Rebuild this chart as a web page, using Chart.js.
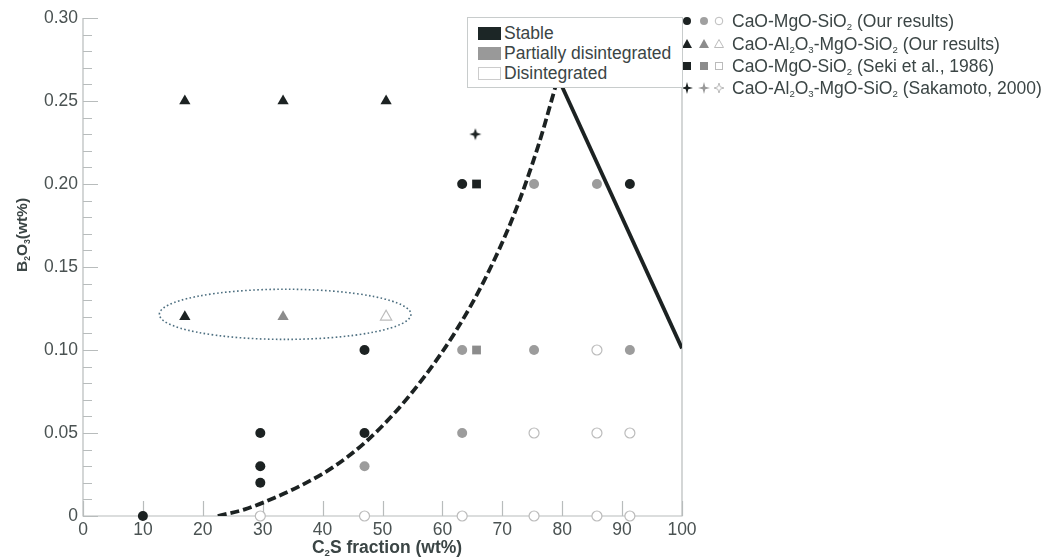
<!DOCTYPE html>
<html>
<head>
<meta charset="utf-8">
<script src="https://cdn.jsdelivr.net/npm/chart.js@4"></script>
<style>
html, body { margin: 0; padding: 0; background: #fff; }
#wrap { position: relative; width: 1055px; height: 560px; font-family: "Liberation Sans", Arial, sans-serif; color: #3b4545; }
#chart { position: absolute; left: 0; top: 0; }
sub { font-size: 0.55em; vertical-align: -0.3em; line-height: 0; }
.box { position: absolute; left: 467px; top: 17px; width: 214px; height: 69px; border: 1px solid #c8cccc; background: #fff; }
.box .row { position: absolute; left: 0; height: 20px; line-height: 20px; font-size: 17.5px; white-space: nowrap; }
.box .sw { position: absolute; left: 10px; top: 4px; width: 23px; height: 13px; box-sizing: border-box; }
.box .tx { position: absolute; left: 36px; top: 0; }
.leg { position: absolute; left: 683px; height: 20px; line-height: 20px; font-size: 17.5px; white-space: nowrap; }
.leg svg { position: absolute; left: 0; top: 0; }
.leg .tx { position: absolute; left: 49px; top: 0; }
.ytitle { position: absolute; left: -38px; top: 225px; width: 120px; height: 20px; line-height: 20px; text-align: center; font-weight: bold; font-size: 15.5px; transform: rotate(-90deg); white-space: nowrap; }
.xtitle { position: absolute; left: 287px; top: 537px; width: 200px; height: 20px; line-height: 20px; text-align: center; font-weight: bold; font-size: 17.5px; white-space: nowrap; }
</style>
</head>
<body>
<div id="wrap">
  <canvas id="chart" width="1055" height="560"></canvas>

  <div class="box">
    <div class="row" style="top:5px"><div class="sw" style="background:#1c2626"></div><span class="tx">Stable</span></div>
    <div class="row" style="top:25px"><div class="sw" style="background:#999"></div><span class="tx">Partially disintegrated</span></div>
    <div class="row" style="top:45px"><div class="sw" style="background:#fff;border:1px solid #ccc"></div><span class="tx">Disintegrated</span></div>
  </div>

  <div class="leg" style="top:11px">
    <svg width="45" height="20"><circle cx="4" cy="10" r="4" fill="#1c2222"/><circle cx="21" cy="10" r="4" fill="#a0a0a0"/><circle cx="36" cy="10" r="3.8" fill="#fff" stroke="#bbb"/></svg>
    <span class="tx">CaO-MgO-SiO<sub>2</sub> (Our results)</span>
  </div>
  <div class="leg" style="top:34px">
    <svg width="45" height="20"><path d="M4 5 L9 14 L-1 14 Z" fill="#1c2222"/><path d="M21 5 L26 14 L16 14 Z" fill="#8c8c8c"/><path d="M36 5.5 L40.5 13.5 L31.5 13.5 Z" fill="#fff" stroke="#bbb"/></svg>
    <span class="tx">CaO-Al<sub>2</sub>O<sub>3</sub>-MgO-SiO<sub>2</sub> (Our results)</span>
  </div>
  <div class="leg" style="top:56px">
    <svg width="45" height="20"><rect x="0" y="6" width="8" height="8" fill="#1c2222"/><rect x="17" y="6" width="8" height="8" fill="#8c8c8c"/><rect x="32.5" y="6.5" width="7" height="7" fill="#fff" stroke="#bbb"/></svg>
    <span class="tx">CaO-MgO-SiO<sub>2</sub> (Seki et al., 1986)</span>
  </div>
  <div class="leg" style="top:78px">
    <svg width="45" height="20"><path d="M4 4 L5.3 8.7 L10 10 L5.3 11.3 L4 16 L2.7 11.3 L-2 10 L2.7 8.7 Z" fill="#1c2222"/><path d="M21 4 L22.3 8.7 L27 10 L22.3 11.3 L21 16 L19.7 11.3 L15 10 L19.7 8.7 Z" fill="#999"/><path d="M36 5 L37.2 8.8 L41 10 L37.2 11.2 L36 15 L34.8 11.2 L31 10 L34.8 8.8 Z" fill="#fff" stroke="#bbb"/></svg>
    <span class="tx">CaO-Al<sub>2</sub>O<sub>3</sub>-MgO-SiO<sub>2</sub> (Sakamoto, 2000)</span>
  </div>

  <div class="ytitle">B<sub>2</sub>O<sub>3</sub>(wt%)</div>
  <div class="xtitle">C<sub>2</sub>S fraction (wt%)</div>
</div>

<script>
// CaO-MgO-SiO2 (our results), circles
const cmsStable = [[10, 0], [29.6, 0.05], [29.6, 0.03], [29.6, 0.02], [47, 0.10], [47, 0.05], [63.3, 0.20], [91.3, 0.20]];
const cmsPartial = [[47, 0.03], [63.3, 0.10], [63.3, 0.05], [75.3, 0.20], [75.3, 0.10], [85.8, 0.20], [91.3, 0.10]];
const cmsDisint = [[29.6, 0], [47, 0], [63.3, 0], [75.3, 0.05], [75.3, 0], [85.8, 0.10], [85.8, 0.05], [85.8, 0], [91.3, 0.05], [91.3, 0]];

// CaO-Al2O3-MgO-SiO2 (our results), triangles
const camsStable = [[17, 0.25], [33.4, 0.25], [50.6, 0.25], [17, 0.12]];
const camsPartial = [[33.4, 0.12]];
const camsDisint = [[50.6, 0.12]];

// Seki et al. 1986 squares, Sakamoto 2000 star
const sekiStable = [[65.7, 0.20]];
const sekiPartial = [[65.7, 0.10]];
const sakamotoStable = [[65.5, 0.23]];

// boundary lines
const boundaryDashed = [[22.5, 0], [27, 0.004], [32, 0.011], [37, 0.0195], [42, 0.030], [47, 0.044], [52, 0.062],
  [57, 0.084], [62, 0.110], [67, 0.142], [72, 0.182], [76, 0.223], [79.3, 0.264]];
const boundarySolid = [[79.3, 0.264], [100, 0.101]];

// dotted ellipse: centre x, centre y, half width, half height (data units)
const ellipse = [33.75, 0.1215, 21, 0.0151];

const xTicks = [0, 100, 10];
const yTicks = [0, 0.30, 0.01];

const BLACK = '#1c2222';
const GREY = '#9c9c9c';
const OPEN = '#bcbcbc';
const AXIS = '#b8bcbc';

const pts = arr => arr.map(p => ({ x: p[0], y: p[1] }));

// four point star for Sakamoto
const starImg = document.createElement('canvas');
starImg.width = 14; starImg.height = 14;
(function () {
  const c = starImg.getContext('2d');
  c.fillStyle = BLACK;
  c.beginPath();
  c.moveTo(7, 1); c.lineTo(8.6, 5.4); c.lineTo(13, 7); c.lineTo(8.6, 8.6);
  c.lineTo(7, 13); c.lineTo(5.4, 8.6); c.lineTo(1, 7); c.lineTo(5.4, 5.4);
  c.closePath(); c.fill();
})();

function marks(data, style, fill, stroke, r) {
  return {
    type: 'scatter', data: pts(data), pointStyle: style, pointRadius: r,
    backgroundColor: fill, borderColor: stroke, borderWidth: stroke === fill ? 0 : 1.2,
    clip: false, order: 1
  };
}

const axisPlugin = {
  id: 'axisPlugin',
  beforeDatasetsDraw(chart) {
    const { ctx, chartArea: a, scales: { x, y } } = chart;
    ctx.save();
    // dotted ellipse
    const cx = x.getPixelForValue(ellipse[0]), cy = y.getPixelForValue(ellipse[1]);
    const rx = x.getPixelForValue(ellipse[0] + ellipse[2]) - cx;
    const ry = cy - y.getPixelForValue(ellipse[1] + ellipse[3]);
    ctx.strokeStyle = '#4d6f80';
    ctx.lineWidth = 1.6;
    ctx.setLineDash([1.6, 2.4]);
    ctx.beginPath();
    ctx.ellipse(cx, cy, rx, ry, 0, 0, Math.PI * 2);
    ctx.stroke();
    ctx.setLineDash([]);

    // axes and inside ticks
    ctx.strokeStyle = AXIS;
    ctx.lineWidth = 1.2;
    ctx.beginPath();
    ctx.moveTo(a.left, a.top); ctx.lineTo(a.left, a.bottom); ctx.lineTo(a.right, a.bottom); ctx.lineTo(a.right, a.top);
    y.ticks.forEach(t => {
      const py = Math.round(y.getPixelForValue(t.value)) + 0.5;
      const major = Math.round(t.value * 100) % 5 === 0;
      ctx.moveTo(a.left, py); ctx.lineTo(a.left + (major ? 15 : 9), py);
    });
    x.ticks.forEach(t => {
      const px = Math.round(x.getPixelForValue(t.value)) + 0.5;
      ctx.moveTo(px, a.bottom); ctx.lineTo(px, a.bottom - 15);
    });
    ctx.stroke();
    ctx.restore();
  }
};

new Chart(document.getElementById('chart'), {
  type: 'scatter',
  data: {
    datasets: [
      { type: 'line', data: pts(boundaryDashed), borderColor: BLACK, borderWidth: 3.8, borderDash: [9, 4],
        pointRadius: 0, cubicInterpolationMode: 'monotone', fill: false, order: 10 },
      { type: 'line', data: pts(boundarySolid), borderColor: BLACK, borderWidth: 3.8,
        pointRadius: 0, fill: false, order: 10 },
      marks(cmsStable, 'circle', BLACK, BLACK, 5),
      marks(cmsPartial, 'circle', GREY, GREY, 5),
      marks(cmsDisint, 'circle', '#fff', OPEN, 5),
      marks(camsStable, 'triangle', BLACK, BLACK, 6.5),
      marks(camsPartial, 'triangle', '#8c8c8c', '#8c8c8c', 6.5),
      marks(camsDisint, 'triangle', '#fff', OPEN, 6.5),
      marks(sekiStable, 'rect', BLACK, BLACK, 6.2),
      marks(sekiPartial, 'rect', '#8c8c8c', '#8c8c8c', 6.2),
      marks(sakamotoStable, starImg, BLACK, BLACK, 6)
    ]
  },
  options: {
    responsive: false,
    animation: false,
    layout: { autoPadding: false, padding: { top: 18, right: 373, left: 0, bottom: 0 } },
    plugins: { legend: { display: false }, tooltip: { enabled: false } },
    scales: {
      x: {
        type: 'linear', min: xTicks[0], max: xTicks[1],
        grid: { display: false, drawTicks: false }, border: { display: false },
        ticks: { stepSize: xTicks[2], padding: 4, color: '#4a5252', font: { family: 'Liberation Sans', size: 17.5 } },
        afterFit(s) { s.height = 44; }
      },
      y: {
        type: 'linear', min: yTicks[0], max: yTicks[1],
        grid: { display: false, drawTicks: false }, border: { display: false },
        ticks: {
          stepSize: yTicks[2], autoSkip: false, padding: 5, color: '#4a5252',
          font: { family: 'Liberation Sans', size: 17.5 },
          callback: v => {
            if (Math.round(v * 100) % 5 !== 0) return '';
            return v === 0 ? '0' : v.toFixed(2);
          }
        },
        afterFit(s) { s.width = 83; }
      }
    }
  },
  plugins: [axisPlugin]
});
</script>
</body>
</html>
